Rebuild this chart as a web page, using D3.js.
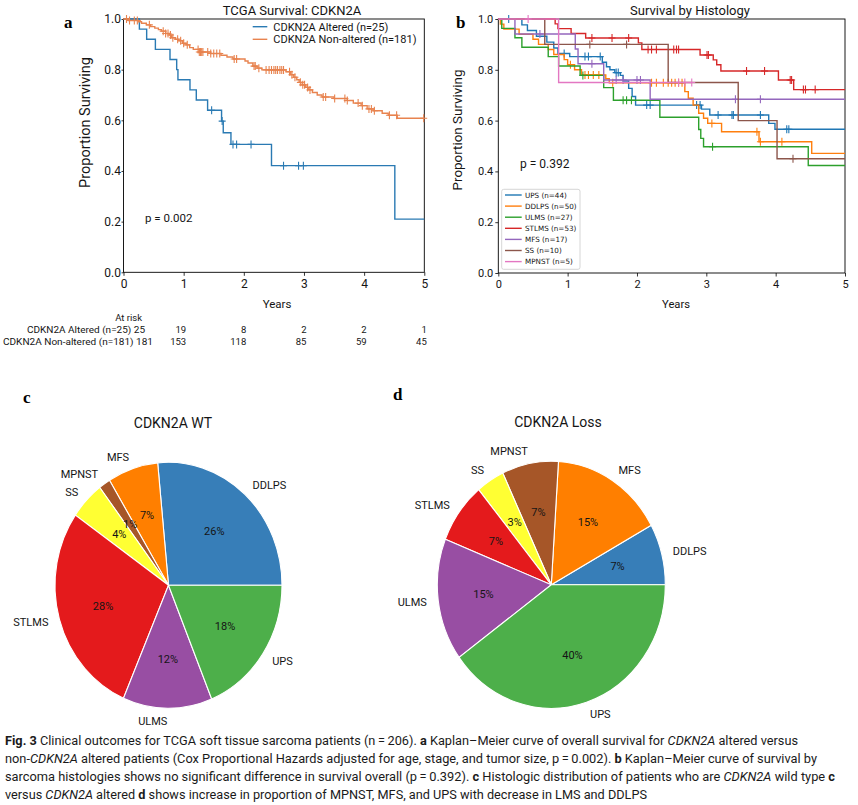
<!DOCTYPE html>
<html><head><meta charset="utf-8">
<script src="https://cdn.jsdelivr.net/npm/d3@7"></script>
<style>body{margin:0;background:#fff}svg{display:block}</style>
</head><body>
<svg id="fig" width="858" height="805"></svg>
<script>
// ---------- data ----------
const yearTicks = [0, 1, 2, 3, 4, 5];
const propTicks = [0, 0.2, 0.4, 0.6, 0.8, 1.0];

// panel a : CDKN2A altered / non-altered (step times and survival after each step)
const altTimes = [0, 0.264, 0.385, 0.53, 0.773, 0.884, 0.905, 1.105, 1.21, 1.398, 1.63, 1.658, 1.786, 2.46, 4.51];
const altSurv  = [1.0, 0.96, 0.92, 0.88, 0.84, 0.80, 0.76, 0.72, 0.68, 0.64, 0.597, 0.551, 0.505, 0.421, 0.21];
const altCensor = [1.465, 1.64, 1.82, 1.88, 2.12, 2.66, 2.91, 2.99];

const naTimes = [0, 0.08, 0.25, 0.30, 0.38, 0.45, 0.52, 0.58, 0.63, 0.70, 0.76, 0.80, 0.86, 0.92, 0.98, 1.04, 1.10, 1.16, 1.26, 1.45, 1.62, 1.72, 1.82, 2.02, 2.07, 2.15, 2.22, 2.30, 2.70, 2.78, 2.83, 2.88, 2.92, 2.97, 3.03, 3.08, 3.14, 3.22, 3.30, 3.50, 3.72, 3.82, 3.95, 4.05, 4.15, 4.30, 4.40, 4.55];
const naSurv  = [1.0, 0.994, 0.989, 0.983, 0.977, 0.970, 0.964, 0.958, 0.952, 0.943, 0.937, 0.926, 0.920, 0.914, 0.904, 0.898, 0.887, 0.880, 0.870, 0.864, 0.857, 0.850, 0.842, 0.834, 0.826, 0.814, 0.806, 0.799, 0.792, 0.780, 0.770, 0.760, 0.750, 0.740, 0.730, 0.720, 0.710, 0.700, 0.692, 0.686, 0.678, 0.668, 0.658, 0.645, 0.638, 0.628, 0.620, 0.608];
const naCensor = [0.05, 0.1, 0.18, 0.23, 0.43, 0.66, 0.7, 0.74, 0.78, 0.82, 0.9, 0.95, 1.0, 1.06, 1.24, 1.26, 1.28, 1.3, 1.32, 1.4, 1.45, 1.5, 1.55, 1.6, 1.84, 1.88, 2.17, 2.19, 2.25, 2.37, 2.42, 2.46, 2.5, 2.53, 2.56, 2.6, 2.63, 2.66, 2.76, 2.8, 2.85, 2.94, 2.98, 3.01, 3.06, 3.1, 3.32, 3.36, 3.51, 3.68, 3.72, 3.9, 3.97, 4.08, 4.12, 4.17, 4.42, 4.54, 4.99];

const aSeriesNames = ["CDKN2A Altered (n=25)", "CDKN2A Non-altered (n=181)"];
const riskAltered = [25, 19, 8, 2, 2, 1];
const riskNonAltered = [181, 153, 118, 85, 59, 45];

// panel b : survival by histology
const histNames = ["UPS", "DDLPS", "ULMS", "STLMS", "MFS", "SS", "MPNST"];
const histN = [44, 50, 27, 53, 17, 10, 5];
const upsTimes = [0, 0.34, 0.42, 0.55, 0.70, 0.80, 0.86, 1.03, 1.50, 1.56, 1.61, 1.68, 1.76, 1.80, 1.88, 1.93, 1.98, 2.93, 3.05, 3.90, 3.99];
const upsSurv  = [1, 0.977, 0.955, 0.932, 0.909, 0.886, 0.864, 0.852, 0.830, 0.812, 0.800, 0.789, 0.778, 0.756, 0.727, 0.695, 0.661, 0.645, 0.622, 0.589, 0.566];
const upsCensor = [0.15, 0.95, 1.25, 1.3, 1.47, 1.7, 1.73, 2.14, 2.19, 2.86, 2.91, 3.17, 3.37, 3.39, 3.78, 4.16, 4.19];
const ddlpsTimes = [0, 0.03, 0.08, 0.30, 0.50, 0.58, 0.72, 0.80, 0.95, 1.00, 1.10, 1.20, 1.55, 1.60, 2.69, 2.74, 2.81, 2.89, 2.96, 3.02, 3.22, 3.76, 4.52];
const ddlpsSurv  = [1, 0.98, 0.96, 0.94, 0.92, 0.90, 0.88, 0.86, 0.84, 0.82, 0.80, 0.78, 0.765, 0.749, 0.714, 0.688, 0.661, 0.629, 0.609, 0.589, 0.556, 0.517, 0.471];
const ddlpsCensor = [1.04, 1.25, 1.3, 1.37, 1.45, 1.65, 2.21, 2.28, 2.38, 2.45, 2.5, 2.55, 2.6, 2.65, 3.08, 3.73, 3.78, 4.09];
const ulmsTimes = [0, 0.05, 0.24, 0.34, 0.72, 0.87, 1.18, 1.52, 1.66, 2.33, 2.89, 2.92, 2.96, 4.47];
const ulmsSurv  = [1, 0.963, 0.926, 0.889, 0.852, 0.815, 0.778, 0.730, 0.680, 0.613, 0.565, 0.530, 0.497, 0.423];
const ulmsCensor = [1.22, 1.80, 1.85, 1.92, 3.09];
const stlmsTimes = [0, 0.82, 0.86, 1.05, 1.26, 2.02, 2.07, 2.91, 3.10, 3.15, 3.21, 4.04, 4.26];
const stlmsSurv  = [1, 0.981, 0.962, 0.943, 0.925, 0.906, 0.880, 0.858, 0.839, 0.820, 0.795, 0.760, 0.722];
const stlmsCensor = [1.35, 1.64, 1.88, 2.16, 2.21, 2.28, 2.53, 2.57, 2.60, 3.01, 3.03, 3.58, 3.84, 4.21, 4.23, 4.40, 4.43, 4.57];
const mfsTimes = [0, 0.24, 1.11, 1.15, 1.52, 2.19];
const mfsSurv  = [1, 0.941, 0.882, 0.824, 0.760, 0.684];
const mfsCensor = [0.6, 1.35, 1.7, 1.8, 2.0, 2.05, 3.42, 3.78];
const ssTimes = [0, 0.67, 2.45, 3.46, 4.02];
const ssSurv  = [1, 0.90, 0.75, 0.60, 0.45];
const ssCensor = [1.32, 1.85, 4.25];
const mpnstTimes = [0, 0.87];
const mpnstSurv  = [1, 0.75];
const mpnstCensor = [0.43, 2.60, 2.69, 2.79];
const histEnd = [5, 5, 5, 5, 5, 5, 2.79];

// panels c, d : histology distribution
const pieLabels = ["DDLPS", "MFS", "MPNST", "SS", "STLMS", "ULMS", "UPS"];
const wtCounts = [48, 13, 3, 9, 51, 23, 34];
const wtPct = ["26%", "7%", "1%", "4%", "28%", "12%", "18%"];
const lossCounts = [2, 4, 2, 1, 2, 4, 10];
const lossPct = ["7%", "15%", "7%", "3%", "7%", "15%", "40%"];

// ---------- drawing ----------
const svg = d3.select("#fig");
const FONT = "Roboto, 'Open Sans', sans-serif";
const INK = "#151515";
const tab10 = ["#1f77b4", "#ff7f0e", "#2ca02c", "#d62728", "#9467bd", "#8c564b", "#e377c2"];
const pieColors = ["#377eb8", "#ff7f00", "#a65628", "#ffff33", "#e41a1c", "#984ea3", "#4daf4a"];

function txt(g, x, y, s, size, opts = {}) {
  const t = g.append("text").attr("x", x).attr("y", y).text(s)
    .attr("font-family", opts.family || FONT).attr("font-size", size)
    .attr("fill", opts.fill || INK).attr("text-anchor", opts.anchor || "start");
  if (opts.weight) t.attr("font-weight", opts.weight);
  if (opts.len) t.attr("textLength", opts.len).attr("lengthAdjust", "spacingAndGlyphs");
  return t;
}

function drawKM(g, x, y, times, surv, end, censors, color, lw) {
  const pts = times.map((t, i) => [t, surv[i]]);
  pts.push([end, surv[surv.length - 1]]);
  g.append("path")
    .attr("d", d3.line().x(d => x(d[0])).y(d => y(d[1])).curve(d3.curveStepAfter)(pts))
    .attr("fill", "none").attr("stroke", color).attr("stroke-width", lw);
  const at = c => surv[Math.max(0, d3.bisectRight(times, c) - 1)];
  g.selectAll(null).data(censors).enter().append("path")
    .attr("d", c => { const cx = x(c), cy = y(at(c)); return `M${cx - 3.5},${cy}H${cx + 3.5}M${cx},${cy - 4}V${cy + 4}`; })
    .attr("stroke", color).attr("stroke-width", 1.1).attr("fill", "none");
}

function frame(g, x, y, tickFont, ySize, yPad) {
  const xAx = g.append("g").attr("transform", `translate(0,${y.range()[0]})`)
    .call(d3.axisBottom(x).tickValues(yearTicks).tickFormat(d3.format("d")).tickSize(3.5).tickPadding(4).tickSizeOuter(0));
  const yAx = g.append("g").attr("transform", `translate(${x.range()[0]},0)`)
    .call(d3.axisLeft(y).tickValues(propTicks).tickFormat(d3.format(".1f")).tickSize(ySize).tickPadding(yPad).tickSizeOuter(0));
  [xAx, yAx].forEach(a => {
    a.select(".domain").remove();
    a.selectAll("text").attr("font-family", FONT).attr("font-size", tickFont).attr("fill", INK);
    a.selectAll("line").attr("stroke", "#000").attr("stroke-width", 0.8);
  });
  g.append("rect").attr("x", x.range()[0]).attr("y", y.range()[1])
    .attr("width", x.range()[1] - x.range()[0]).attr("height", y.range()[0] - y.range()[1])
    .attr("fill", "none").attr("stroke", "#000").attr("stroke-width", 0.9);
}

// ----- panel a -----
const ga = svg.append("g");
const xa = d3.scaleLinear([0, 5], [123.5, 424.3]);
const ya = d3.scaleLinear([0, 1], [272.3, 19]);
frame(ga, xa, ya, 12, 2, 0.5);
drawKM(ga, xa, ya, altTimes, altSurv, 5, altCensor, "#2a7ab3", 1.4);
drawKM(ga, xa, ya, naTimes, naSurv, 5, naCensor, "#e8834f", 1.4);
txt(ga, 292, 15, "TCGA Survival: CDKN2A", 13, { anchor: "middle" });
txt(ga, 64, 28, "a", 17, { family: "'Liberation Serif', serif", weight: "bold", fill: "#000" });
txt(ga, 0, 0, "Proportion Surviving", 14.5, { anchor: "middle" }).attr("transform", "translate(89.5,122.5) rotate(-90)");
txt(ga, 277, 307.5, "Years", 11.5, { anchor: "middle" });
txt(ga, 145, 222, "p = 0.002", 11.5);
[["#2a7ab3", 26.7], ["#e8834f", 39.3]].forEach(([c, yy], i) => {
  ga.append("line").attr("x1", 252.7).attr("x2", 267.3).attr("y1", yy).attr("y2", yy).attr("stroke", c).attr("stroke-width", 1.4);
  txt(ga, 273.3, yy + 4, aSeriesNames[i], 11);
});
// at-risk table
txt(ga, 142, 321, "At risk", 9.5, { anchor: "end" });
txt(ga, 145, 332.5, aSeriesNames[0] + " " + riskAltered[0], 9.5, { anchor: "end", len: 118 });
txt(ga, 153, 345, aSeriesNames[1] + " " + riskNonAltered[0], 9.5, { anchor: "end", len: 150 });
yearTicks.slice(1).forEach((t, i) => {
  txt(ga, xa(t) + 2.5, 332.5, String(riskAltered[i + 1]), 9.5, { anchor: "end" });
  txt(ga, xa(t) + 2.5, 345, String(riskNonAltered[i + 1]), 9.5, { anchor: "end" });
});

// ----- panel b -----
const gb = svg.append("g");
const xb = d3.scaleLinear([0, 5], [498.3, 845]);
const yb = d3.scaleLinear([0, 1], [273, 19]);
frame(gb, xb, yb, 11, 3, 2);
const histTimes = [upsTimes, ddlpsTimes, ulmsTimes, stlmsTimes, mfsTimes, ssTimes, mpnstTimes];
const histSurv = [upsSurv, ddlpsSurv, ulmsSurv, stlmsSurv, mfsSurv, ssSurv, mpnstSurv];
const histCensor = [upsCensor, ddlpsCensor, ulmsCensor, stlmsCensor, mfsCensor, ssCensor, mpnstCensor];
histNames.forEach((n, i) => drawKM(gb, xb, yb, histTimes[i], histSurv[i], histEnd[i], histCensor[i], tab10[i], 1.4));
txt(gb, 690, 15, "Survival by Histology", 13, { anchor: "middle" });
txt(gb, 456, 28, "b", 17, { family: "'Liberation Serif', serif", weight: "bold", fill: "#000" });
txt(gb, 0, 0, "Proportion Surviving", 13.4, { anchor: "middle" }).attr("transform", "translate(462,130) rotate(-90)");
txt(gb, 676, 307.5, "Years", 11.2, { anchor: "middle" });
txt(gb, 520, 167.5, "p = 0.392", 12);
gb.append("rect").attr("x", 501.7).attr("y", 189.3).attr("width", 78.3).attr("height", 80).attr("rx", 2)
  .attr("fill", "#fff").attr("fill-opacity", 0.85).attr("stroke", "#cccccc").attr("stroke-width", 0.8);
histNames.forEach((n, i) => {
  const yy = 195 + i * 11.1;
  gb.append("line").attr("x1", 505).attr("x2", 521.7).attr("y1", yy).attr("y2", yy).attr("stroke", tab10[i]).attr("stroke-width", 1.4);
  txt(gb, 525, yy + 2.5, `${n} (n=${histN[i]})`, 7.2, { family: "'DejaVu Sans', sans-serif" });
});

// ----- panels c, d -----
function drawPie(cx, cy, rx, ry, counts, labels, pcts, title, tx, ty, letter, lx, ly) {
  const g = svg.append("g");
  const arcs = d3.pie().sort(null).startAngle(Math.PI / 2).endAngle(Math.PI / 2 - 2 * Math.PI)(counts);
  const arc = d3.arc().innerRadius(0).outerRadius(rx);
  g.append("g").attr("transform", `translate(${cx},${cy}) scale(1,${ry / rx})`)
    .selectAll("path").data(arcs).enter().append("path")
    .attr("d", arc).attr("fill", (d, i) => pieColors[i])
    .attr("stroke", "#fff").attr("stroke-width", 1.1).attr("vector-effect", "non-scaling-stroke");
  arcs.forEach((d, i) => {
    const a = (d.startAngle + d.endAngle) / 2;
    const sx = Math.sin(a), sy = -Math.cos(a);
    txt(g, cx + 1.1 * rx * sx, cy + 1.1 * ry * sy + 4, labels[i], 11, { anchor: sx > 0 ? "start" : "end" });
    txt(g, cx + 0.6 * rx * sx, cy + 0.6 * ry * sy + 4, pcts[i], 11, { anchor: "middle" });
  });
  txt(g, tx, ty, title, 14, { anchor: "middle" });
  txt(g, lx, ly, letter, 17, { family: "'Liberation Serif', serif", weight: "bold", fill: "#000" });
}
drawPie(168.5, 585.3, 113.5, 123, wtCounts, pieLabels, wtPct, "CDKN2A WT", 173, 428, "c", 23, 403);
drawPie(551.3, 584.8, 114, 123.5, lossCounts, pieLabels, lossPct, "CDKN2A Loss", 558, 426.5, "d", 393, 399.5);

// ----- caption -----
const cap = [
  { y: 744.5, len: 793, parts: [["Fig. 3", "b"], [" Clinical outcomes for TCGA soft tissue sarcoma patients (n\u2009=\u2009206). ", ""], ["a", "b"], [" Kaplan\u2013Meier curve of overall survival for ", ""], ["CDKN2A", "i"], [" altered versus", ""]] },
  { y: 762.7, len: 812, parts: [["non-", ""], ["CDKN2A", "i"], [" altered patients (Cox Proportional Hazards adjusted for age, stage, and tumor size, p\u2009=\u20090.002). ", ""], ["b", "b"], [" Kaplan\u2013Meier curve of survival by", ""]] },
  { y: 780.9, len: 830, parts: [["sarcoma histologies shows no significant difference in survival overall (p\u2009=\u20090.392). ", ""], ["c", "b"], [" Histologic distribution of patients who are ", ""], ["CDKN2A", "i"], [" wild type ", ""], ["c", "b"]] },
  { y: 799.1, len: 642, parts: [["versus ", ""], ["CDKN2A", "i"], [" altered ", ""], ["d", "b"], [" shows increase in proportion of MPNST, MFS, and UPS with decrease in LMS and DDLPS", ""]] }
];
cap.forEach(line => {
  const t = svg.append("text").attr("x", 5).attr("y", line.y)
    .attr("font-family", FONT).attr("font-size", 12.5).attr("fill", "#1a1a1a")
    .attr("textLength", line.len).attr("lengthAdjust", "spacingAndGlyphs")
    .attr("xml:space", "preserve").style("white-space", "pre");
  line.parts.forEach(([s, f]) => {
    const ts = t.append("tspan").text(s);
    if (f === "b") ts.attr("font-weight", "bold");
    if (f === "i") ts.attr("font-style", "italic");
  });
});
</script>
</body></html>
